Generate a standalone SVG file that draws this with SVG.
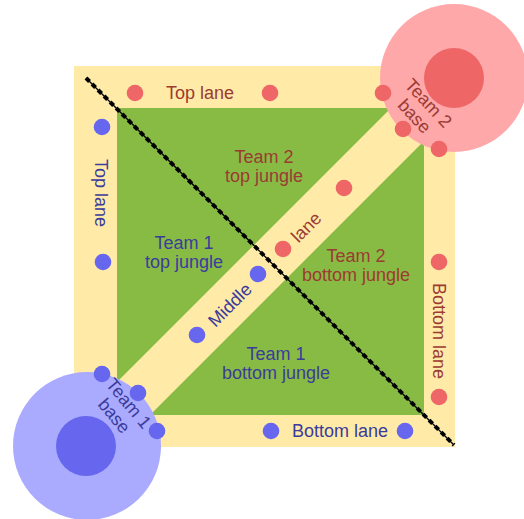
<svg xmlns="http://www.w3.org/2000/svg" width="524" height="519" viewBox="0 0 524 519">
  <style>
    text { font-family: "Liberation Sans", Arial, sans-serif; font-size: 18px; text-anchor: middle; }
    .t1 { fill: #3b3b9b; }
    .t2 { fill: #9b3b33; }
    .lane { fill: #ffeaa8; }
    .jungle { fill: #88bb44; }
    .dot1 { fill: #6666ee; }
    .dot2 { fill: #ee6666; }
  </style>

  <!-- Map ground: lanes ring, jungle, middle lane -->
  <g id="map">
    <rect class="lane" x="74" y="66" width="381" height="381"/>
    <rect class="jungle" x="117" y="108" width="307" height="307"/>
    <polygon class="lane" points="117,382 391,108 424,108 424,141 150,415 117,415"/>
  </g>

  <!-- Bases -->
  <g id="base-team2">
    <circle cx="454" cy="78" r="74" fill="#ffa8aa"/>
    <circle cx="454" cy="78" r="30" fill="#ee6666"/>
  </g>
  <g id="base-team1">
    <circle cx="87" cy="446" r="74" fill="#aaaaff"/>
    <circle cx="86" cy="446" r="30" fill="#6666ee"/>
  </g>

  <!-- Dividing line between the two halves -->
  <g id="connectors">
    <line x1="86" y1="78" x2="454" y2="445" stroke="#000" stroke-width="1.3"/>
    <line x1="86" y1="78" x2="454" y2="445" stroke="#000" stroke-width="4" stroke-dasharray="5 3.5"/>
  </g>

  <!-- Team 2 towers -->
  <g id="towers-team2">
    <circle class="dot2" cx="135" cy="93" r="8.3"/>
    <circle class="dot2" cx="270" cy="93" r="8.3"/>
    <circle class="dot2" cx="383" cy="93" r="8.3"/>
    <circle class="dot2" cx="403" cy="129" r="8.3"/>
    <circle class="dot2" cx="439" cy="149" r="8.3"/>
    <circle class="dot2" cx="344" cy="188" r="8.3"/>
    <circle class="dot2" cx="283" cy="249" r="8.3"/>
    <circle class="dot2" cx="439" cy="262" r="8.3"/>
    <circle class="dot2" cx="439" cy="397" r="8.3"/>
  </g>

  <!-- Team 1 towers -->
  <g id="towers-team1">
    <circle class="dot1" cx="102" cy="127" r="8.3"/>
    <circle class="dot1" cx="103" cy="262" r="8.3"/>
    <circle class="dot1" cx="258" cy="274" r="8.3"/>
    <circle class="dot1" cx="197" cy="335" r="8.3"/>
    <circle class="dot1" cx="102" cy="374" r="8.3"/>
    <circle class="dot1" cx="138" cy="393" r="8.3"/>
    <circle class="dot1" cx="157" cy="431" r="8.3"/>
    <circle class="dot1" cx="271" cy="431" r="8.3"/>
    <circle class="dot1" cx="405" cy="431" r="8.3"/>
  </g>

  <!-- Labels -->
  <g id="label-top-lane-h"><text class="t2" x="200" y="99">Top lane</text></g>
  <g id="label-top-lane-v" transform="translate(101,193) rotate(90)"><text class="t1" x="0" y="6">Top lane</text></g>
  <g id="label-bottom-lane-h"><text class="t1" x="340" y="437">Bottom lane</text></g>
  <g id="label-bottom-lane-v" transform="translate(439,331) rotate(90)"><text class="t2" x="0" y="6">Bottom lane</text></g>

  <g id="label-t2-top-jungle">
    <text class="t2" x="264" y="163">Team 2</text>
    <text class="t2" x="264" y="182">top jungle</text>
  </g>
  <g id="label-t1-top-jungle">
    <text class="t1" x="184" y="249">Team 1</text>
    <text class="t1" x="184" y="268">top jungle</text>
  </g>
  <g id="label-t2-bottom-jungle">
    <text class="t2" x="356" y="262">Team 2</text>
    <text class="t2" x="356" y="281">bottom jungle</text>
  </g>
  <g id="label-t1-bottom-jungle">
    <text class="t1" x="276" y="360">Team 1</text>
    <text class="t1" x="276" y="379">bottom jungle</text>
  </g>

  <g id="label-middle" transform="translate(230,305) rotate(-45)"><text class="t1" x="0" y="6">Middle</text></g>
  <g id="label-lane" transform="translate(307,228) rotate(-45)"><text class="t2" x="0" y="5">lane</text></g>

  <g id="label-base-team2" transform="translate(421,110) rotate(47)">
    <text class="t2" x="0" y="-4">Team 2</text>
    <text class="t2" x="0" y="15">base</text>
  </g>
  <g id="label-base-team1" transform="translate(121,410) rotate(50)">
    <text class="t1" x="0" y="-4">Team 1</text>
    <text class="t1" x="0" y="15">base</text>
  </g>
</svg>
